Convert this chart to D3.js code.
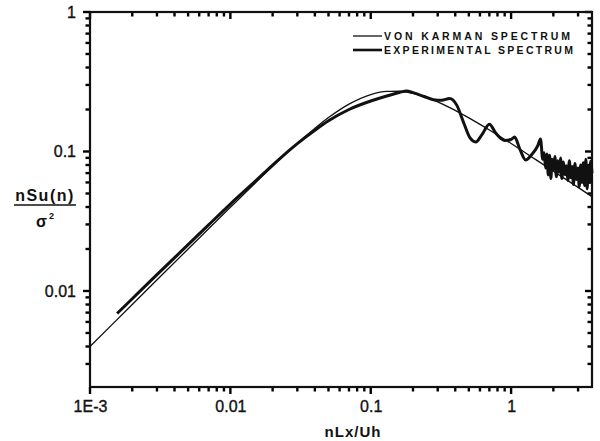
<!DOCTYPE html>
<html>
<head>
<meta charset="utf-8">
<script src="https://cdn.jsdelivr.net/npm/d3@7"></script>
<style>
  html, body { margin: 0; padding: 0; background: #fff; }
  svg { display: block; }
  text { font-family: 'Liberation Sans', Arial, sans-serif; fill: #111; }
</style>
</head>
<body>
<div id="container"></div>
<script>
'use strict';

// Von Karman spectrum.
const vkX = [0.001, 0.002, 0.005, 0.01, 0.02, 0.03, 0.05, 0.07, 0.1, 0.13, 0.16, 0.2,
    0.25, 0.3, 0.4, 0.5, 0.7, 1, 1.5, 2, 3, 3.77];
const vkY = [0.0040, 0.0080, 0.0200, 0.0398, 0.0782, 0.114, 0.175, 0.2185, 0.256, 0.270, 0.2704, 0.261,
    0.2445, 0.227, 0.197, 0.174, 0.1425, 0.114, 0.0874, 0.0723, 0.0553, 0.0474];

// Experimental spectrum.
const expX = [0.00156, 0.002, 0.003, 0.005, 0.007, 0.01, 0.015, 0.02, 0.03, 0.04, 0.05, 0.07,
    0.1, 0.13, 0.16, 0.18, 0.2, 0.24, 0.28, 0.32, 0.365, 0.41, 0.46, 0.51, 0.56, 0.62, 0.70,
    0.78, 0.90, 1.0, 1.06, 1.15, 1.27, 1.39, 1.55, 1.62, 1.68,
    1.72, 1.76, 1.80, 1.84, 1.88, 1.92, 1.96, 2.00, 2.05, 2.10, 2.15, 2.20, 2.25, 2.30,
    2.36, 2.42, 2.48, 2.54, 2.60, 2.66, 2.72, 2.78, 2.85, 2.92, 2.99, 3.06, 3.13, 3.20,
    3.27, 3.34, 3.41, 3.48, 3.55, 3.62, 3.69, 3.77];
const expY = [0.0069, 0.0088, 0.0131, 0.0215, 0.0298, 0.042, 0.061, 0.080, 0.114, 0.142, 0.166, 0.200,
    0.230, 0.250, 0.265, 0.272, 0.264, 0.248, 0.235, 0.233, 0.240, 0.215, 0.160, 0.125, 0.117, 0.132, 0.157,
    0.135, 0.120, 0.122, 0.127, 0.105, 0.087, 0.094, 0.110, 0.123, 0.088,
    0.098, 0.076, 0.096, 0.068, 0.094, 0.064, 0.088, 0.074, 0.092, 0.066, 0.086, 0.071, 0.090, 0.064,
    0.084, 0.068, 0.079, 0.062, 0.086, 0.065, 0.078, 0.058, 0.082, 0.063, 0.076, 0.056, 0.080, 0.060,
    0.083, 0.057, 0.088, 0.054, 0.079, 0.060, 0.085, 0.070];

// Ticks.
const xMajor = [0.001, 0.01, 0.1, 1];
const xMajorLabels = ['1E-3', '0.01', '0.1', '1'];
const xMinor = [0.002, 0.003, 0.004, 0.005, 0.006, 0.007, 0.008, 0.009,
    0.02, 0.03, 0.04, 0.05, 0.06, 0.07, 0.08, 0.09,
    0.2, 0.3, 0.4, 0.5, 0.6, 0.7, 0.8, 0.9, 2, 3];
const yMajor = [0.01, 0.1, 1];
const yMajorLabels = ['0.01', '0.1', '1'];
const yMinor = [0.003, 0.004, 0.005, 0.006, 0.007, 0.008, 0.009,
    0.02, 0.03, 0.04, 0.05, 0.06, 0.07, 0.08, 0.09,
    0.2, 0.3, 0.4, 0.5, 0.6, 0.7, 0.8, 0.9];

const legendLabels = ['VON KARMAN SPECTRUM', 'EXPERIMENTAL SPECTRUM'];

const w = 600;
const h = 441;
const plotLeft = 90;
const plotRight = 592;
const plotTop = 12;
const plotBottom = 387;
const majorLen = 7;
const minorLen = 4.5;

const svg = d3.select('#container')
    .append('svg')
    .attr('width', w)
    .attr('height', h)
    .attr('viewBox', '0 0 ' + w + ' ' + h);

const xScale = d3.scaleLog().domain([0.001, 3.77]).range([plotLeft, plotRight]);
const yScale = d3.scaleLog().domain([0.00205, 1]).range([plotBottom, plotTop]);

// Tick labels through d3 axes (tick marks drawn below).
const xAxis = d3.axisBottom(xScale)
    .tickValues(xMajor)
    .tickSize(0)
    .tickPadding(14)
    .tickFormat((d, i) => xMajorLabels[i]);
const yAxis = d3.axisLeft(yScale)
    .tickValues(yMajor)
    .tickSize(0)
    .tickPadding(14)
    .tickFormat((d, i) => yMajorLabels[i]);

[svg.append('g').attr('transform', 'translate(0,' + plotBottom + ')').call(xAxis),
 svg.append('g').attr('transform', 'translate(' + plotLeft + ',0)').call(yAxis)]
    .forEach(g => {
        g.select('.domain').remove();
        g.selectAll('.tick text')
            .attr('font-size', 16)
            .attr('font-family', "'Liberation Sans', Arial, sans-serif")
            .attr('fill', '#111')
            .attr('stroke', '#111')
            .attr('stroke-width', 0.35);
    });

// Tick marks: bottom/left point out, top/right point in.
const tickMarks = svg.append('g')
    .attr('stroke', '#000')
    .attr('stroke-width', 2.4);

function xTicks(values, len) {
    tickMarks.append('g').selectAll('line').data(values).join('line')
        .attr('x1', d => xScale(d)).attr('x2', d => xScale(d))
        .attr('y1', plotBottom).attr('y2', plotBottom + len);
    tickMarks.append('g').selectAll('line').data(values).join('line')
        .attr('x1', d => xScale(d)).attr('x2', d => xScale(d))
        .attr('y1', plotTop).attr('y2', plotTop + len);
}
function yTicks(values, len) {
    tickMarks.append('g').selectAll('line').data(values).join('line')
        .attr('y1', d => yScale(d)).attr('y2', d => yScale(d))
        .attr('x1', plotLeft).attr('x2', plotLeft - len);
    tickMarks.append('g').selectAll('line').data(values).join('line')
        .attr('y1', d => yScale(d)).attr('y2', d => yScale(d))
        .attr('x1', plotRight).attr('x2', plotRight - len);
}
xTicks(xMajor, majorLen);
xTicks(xMinor, minorLen);
yTicks(yMajor, majorLen);
yTicks(yMinor, minorLen);

// Frame.
svg.append('rect')
    .attr('x', plotLeft)
    .attr('y', plotTop)
    .attr('width', plotRight - plotLeft)
    .attr('height', plotBottom - plotTop)
    .attr('fill', 'none')
    .attr('stroke', '#111')
    .attr('stroke-width', 2.2);

// Curves.
const line = d3.line()
    .x(d => xScale(d[0]))
    .y(d => yScale(d[1]))
    .curve(d3.curveMonotoneX);

svg.append('path')
    .datum(d3.zip(vkX, vkY))
    .attr('d', line)
    .attr('fill', 'none')
    .attr('stroke', '#111')
    .attr('stroke-width', 1.3);

svg.append('path')
    .datum(d3.zip(expX, expY))
    .attr('d', line)
    .attr('fill', 'none')
    .attr('stroke', '#111')
    .attr('stroke-width', 3)
    .attr('stroke-linejoin', 'round');

// Legend.
const legend = svg.append('g');
legendLabels.forEach((label, i) => {
    const y = 36 + i * 14;
    legend.append('line')
        .attr('x1', 353).attr('x2', 382)
        .attr('y1', y).attr('y2', y)
        .attr('stroke', '#111')
        .attr('stroke-width', i === 0 ? 1.3 : 2.6);
    legend.append('text')
        .attr('x', 384)
        .attr('y', y + 4)
        .attr('font-size', 10.5)
        .attr('font-weight', 'bold')
        .attr('textLength', i === 0 ? 186 : 189)
        .attr('lengthAdjust', 'spacing')
        .text(label);
});

// Axis titles.
svg.append('text')
    .attr('x', 353)
    .attr('y', 437)
    .attr('text-anchor', 'middle')
    .attr('font-size', 15)
    .attr('font-weight', 'bold')
    .attr('letter-spacing', 1)
    .text('nLx/Uh');

svg.append('text')
    .attr('x', 45)
    .attr('y', 201)
    .attr('text-anchor', 'middle')
    .attr('font-size', 16)
    .attr('font-weight', 'bold')
    .attr('letter-spacing', 1.5)
    .text('nSu(n)');
svg.append('line')
    .attr('x1', 14).attr('x2', 76)
    .attr('y1', 205).attr('y2', 205)
    .attr('stroke', '#111')
    .attr('stroke-width', 1.6);
svg.append('text')
    .attr('x', 36)
    .attr('y', 227)
    .attr('font-size', 16)
    .attr('font-weight', 'bold')
    .text('σ');
svg.append('text')
    .attr('x', 49)
    .attr('y', 219)
    .attr('font-size', 9)
    .attr('font-weight', 'bold')
    .text('2');
</script>
</body>
</html>
